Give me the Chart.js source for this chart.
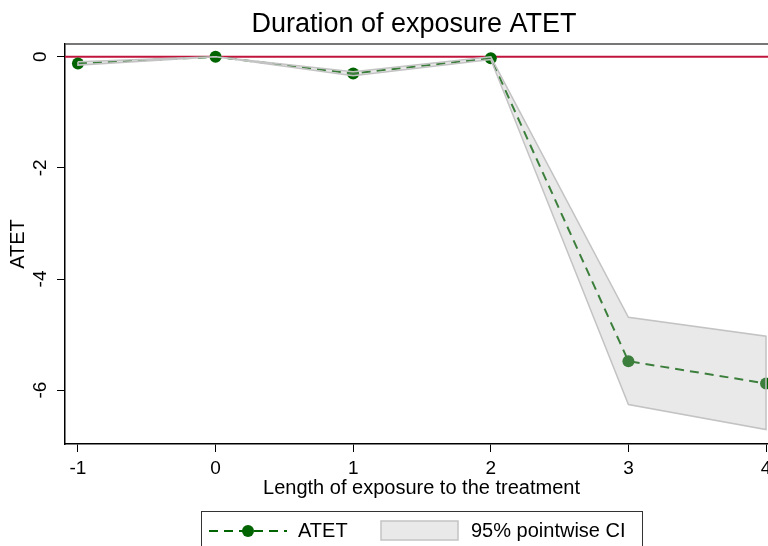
<!DOCTYPE html>
<html>
<head>
<meta charset="utf-8">
<script src="https://cdn.jsdelivr.net/npm/chart.js@4/dist/chart.umd.min.js"></script>
<style>
  html, body { margin: 0; padding: 0; background: #fff; }
  #wrap { position: relative; width: 768px; height: 546px; overflow: hidden; }
  canvas { display: block; }
</style>
</head>
<body>
<div id="wrap"><canvas id="c" width="790" height="546"></canvas></div>
<script>
// ---- data ----
const exposure = [-1, 0, 1, 2, 3, 4];
const atet     = [-0.12, 0, -0.30, -0.025, -5.48, -5.88];
const ciLow    = [-0.15, 0, -0.34, -0.05, -6.26, -6.71];
const ciHigh   = [-0.09, 0, -0.27, 0.0, -4.69, -5.03];
const xTicks = [-1, 0, 1, 2, 3, 4];
const yTicks = [0, -2, -4, -6];
const titleText = 'Duration of exposure ATET';
const xTitle = 'Length of exposure to the treatment';
const yTitle = 'ATET';
const legendLabels = ['ATET', '95% pointwise CI'];

const FONT = 'Arial, "Liberation Sans", Helvetica, sans-serif';
const GREEN = '#006400';
const BAND_FILL = 'rgba(186,186,186,0.32)';
const BAND_LINE = 'rgb(195,195,195)';

const pts = (ys) => exposure.map((x, i) => ({ x: x, y: ys[i] }));
const outline = pts(ciHigh).concat(pts(ciLow).reverse());
outline.push({ x: exposure[0], y: ciHigh[0] });

const decor = {
  id: 'decor',
  beforeDatasetsDraw(chart) {
    const { ctx, chartArea: a, scales: { y } } = chart;
    const y0 = y.getPixelForValue(0);
    ctx.save();
    ctx.strokeStyle = '#c0143c';
    ctx.lineWidth = 2;
    ctx.beginPath();
    ctx.moveTo(a.left, y0);
    ctx.lineTo(a.right, y0);
    ctx.stroke();
    ctx.restore();
  },
  afterDraw(chart) {
    const { ctx, chartArea: a } = chart;
    ctx.save();
    // top border of plot region
    ctx.strokeStyle = '#4a4a4a';
    ctx.lineWidth = 1.5;
    ctx.beginPath();
    ctx.moveTo(a.left, a.top);
    ctx.lineTo(a.right, a.top);
    ctx.stroke();
    // title
    ctx.fillStyle = '#000';
    ctx.font = '27px ' + FONT;
    ctx.textAlign = 'center';
    ctx.textBaseline = 'alphabetic';
    ctx.fillText(titleText, 414, 32);
    // legend box
    ctx.strokeStyle = '#333';
    ctx.lineWidth = 1;
    ctx.strokeRect(201.5, 511.5, 441, 60);
    // ATET symbol
    ctx.strokeStyle = GREEN;
    ctx.lineWidth = 2;
    ctx.setLineDash([9, 6]);
    ctx.beginPath();
    ctx.moveTo(209, 531);
    ctx.lineTo(287, 531);
    ctx.stroke();
    ctx.setLineDash([]);
    ctx.fillStyle = GREEN;
    ctx.beginPath();
    ctx.arc(248, 531, 6, 0, Math.PI * 2);
    ctx.fill();
    // CI symbol
    ctx.fillStyle = '#e9e9e9';
    ctx.fillRect(381, 521, 77, 19);
    ctx.strokeStyle = BAND_LINE;
    ctx.lineWidth = 1.5;
    ctx.strokeRect(381, 521, 77, 19);
    // legend texts
    ctx.fillStyle = '#000';
    ctx.font = '20px ' + FONT;
    ctx.textAlign = 'left';
    ctx.textBaseline = 'middle';
    ctx.fillText(legendLabels[0], 298, 531);
    ctx.fillText(legendLabels[1], 471, 531);
    ctx.restore();
  }
};

new Chart(document.getElementById('c'), {
  type: 'line',
  data: {
    datasets: [
      { label: 'ci-outline', data: outline, showLine: true, fill: false,
        borderColor: BAND_LINE, borderWidth: 1.5, pointRadius: 0, tension: 0, clip: false },
      { label: legendLabels[1], data: pts(ciHigh), fill: '+1', backgroundColor: BAND_FILL,
        borderWidth: 0, borderColor: 'rgba(0,0,0,0)', pointRadius: 0, tension: 0, clip: false },
      { label: 'ci-low', data: pts(ciLow), fill: false,
        borderWidth: 0, borderColor: 'rgba(0,0,0,0)', pointRadius: 0, tension: 0, clip: false },
      { label: legendLabels[0], data: pts(atet), fill: false, borderColor: GREEN, borderWidth: 2,
        borderDash: [9, 6], pointRadius: 6, pointBackgroundColor: GREEN, pointBorderWidth: 0,
        tension: 0, clip: false }
    ]
  },
  options: {
    responsive: false,
    animation: false,
    devicePixelRatio: 1,
    layout: { padding: { top: 44, left: 0, right: 12, bottom: 46 } },
    plugins: { legend: { display: false }, title: { display: false }, tooltip: { enabled: false } },
    scales: {
      x: {
        type: 'linear', min: -1.094, max: 4.087,
        afterBuildTicks: (s) => { s.ticks = xTicks.map(v => ({ value: v })); },
        afterFit: (s) => { s.height = 56; },
        ticks: { color: '#000', font: { size: 19, family: FONT }, padding: 5, autoSkip: false, maxRotation: 0,
                 callback: (v) => String(v) },
        grid: { drawOnChartArea: false, drawTicks: true, tickLength: 8, color: '#000', lineWidth: 1 },
        border: { display: true, color: '#000', width: 1.5 },
        title: { display: true, text: xTitle, color: '#000', font: { size: 20, family: FONT }, padding: { top: 0, bottom: 0 } }
      },
      y: {
        type: 'linear', min: -6.97, max: 0.23,
        afterBuildTicks: (s) => { s.ticks = yTicks.map(v => ({ value: v })); },
        afterFit: (s) => { s.width = 65; },
        ticks: { color: '#000', font: { size: 19, family: FONT }, padding: 8, autoSkip: false,
                 minRotation: 90, maxRotation: 90, crossAlign: 'center', callback: (v) => String(v) },
        grid: { drawOnChartArea: false, drawTicks: true, tickLength: 8, color: '#000', lineWidth: 1 },
        border: { display: true, color: '#000', width: 1.5 },
        title: { display: true, text: yTitle, color: '#000', font: { size: 20, family: FONT }, padding: { top: 6, bottom: 0 } }
      }
    }
  },
  plugins: [decor]
});
</script>
</body>
</html>
